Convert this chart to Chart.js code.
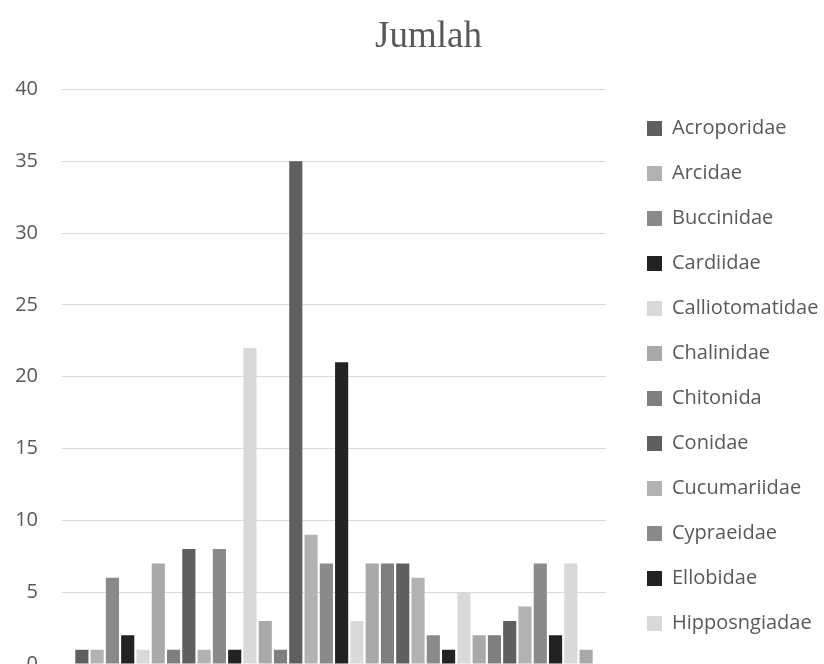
<!DOCTYPE html>
<html>
<head>
<meta charset="utf-8">
<script src="https://cdn.jsdelivr.net/npm/chart.js@4/dist/chart.umd.min.js"></script>
<style>
html,body{margin:0;padding:0;background:#fff;overflow:hidden;}
#wrap{width:824px;height:664px;overflow:hidden;}
</style>
</head>
<body>
<div id="wrap"><canvas id="c" width="824" height="700"></canvas></div>
<script>
const chartTitle = "Jumlah";
// Family names visible in the (cropped) legend
const familyNames = ["Acroporidae","Arcidae","Buccinidae","Cardiidae","Calliotomatidae","Chalinidae","Chitonida","Conidae","Cucumariidae","Cypraeidae","Ellobidae","Hipposngiadae"];
// Counts, one bar per family, left to right
const counts = [1,1,6,2,1,7,1,8,1,8,1,22,3,1,35,9,7,21,3,7,7,7,6,2,1,5,2,2,3,4,7,2,7,1];
const yTicks = [0,5,10,15,20,25,30,35,40];
const palette = ["#5f5f5f","#b2b2b2","#8a8a8a","#222222","#d9d9d9","#a9a9a9","#7f7f7f"];

function draw() {
  const datasets = counts.map((v, i) => ({
    label: familyNames[i] !== undefined ? familyNames[i] : "",
    data: [v],
    backgroundColor: palette[i % palette.length],
    borderWidth: 0,
    categoryPercentage: 0.955,
    barPercentage: 0.86
  }));

  const LEGEND_WIDTH = 218;
  const LEGEND_SHIFT = 16;
  const layoutTweaks = {
    id: 'layoutTweaks',
    beforeLayout(chart) {
      const lg = chart.legend;
      if (lg && !lg._widthPatched) {
        const origFit = lg.fit.bind(lg);
        lg.fit = function () { origFit(); this.width = LEGEND_WIDTH; };
        lg._widthPatched = true;
      }
    },
    afterLayout(chart) {
      if (chart.titleBlock) { chart.titleBlock.left += 9; chart.titleBlock.right += 9; }
      const lg = chart.legend;
      if (lg) { lg.left += LEGEND_SHIFT; lg.top += 4; lg.bottom += 4; }
    }
  };

  new Chart(document.getElementById('c'), {
    type: 'bar',
    data: { labels: [""], datasets },
    plugins: [layoutTweaks],
    options: {
      responsive: false,
      animation: false,
      layout: { padding: { left: 15, right: 0, top: 0, bottom: 31 } },
      plugins: {
        title: {
          display: true,
          text: chartTitle,
          color: '#595959',
          font: { family: '"Liberation Serif", serif', size: 37, weight: 'normal' },
          padding: { top: 15, bottom: 30 }
        },
        legend: {
          position: 'right',
          align: 'start',
          fullSize: false,
          labels: {
            filter: (item) => item.text !== "",
            color: '#595959',
            font: { family: '"Open Sans", sans-serif', size: 20 },
            boxWidth: 15,
            boxHeight: 15,
            padding: 25
          }
        },
        tooltip: { enabled: false }
      },
      scales: {
        x: { display: false },
        y: {
          min: 0, max: 40,
          afterBuildTicks: (s) => { s.ticks = yTicks.map(v => ({ value: v })); },
          afterFit: (s) => { s.width = 47; },
          ticks: { color: '#595959', font: { family: '"Open Sans", sans-serif', size: 20 }, padding: 24 },
          grid: { color: '#d9d9d9', lineWidth: 1, drawTicks: false },
          border: { display: false }
        }
      }
    }
  });
}

Promise.all([
  document.fonts.load('20px "Open Sans"'),
  document.fonts.load('37px "Liberation Serif"')
]).then(draw, draw);
</script>
</body>
</html>
